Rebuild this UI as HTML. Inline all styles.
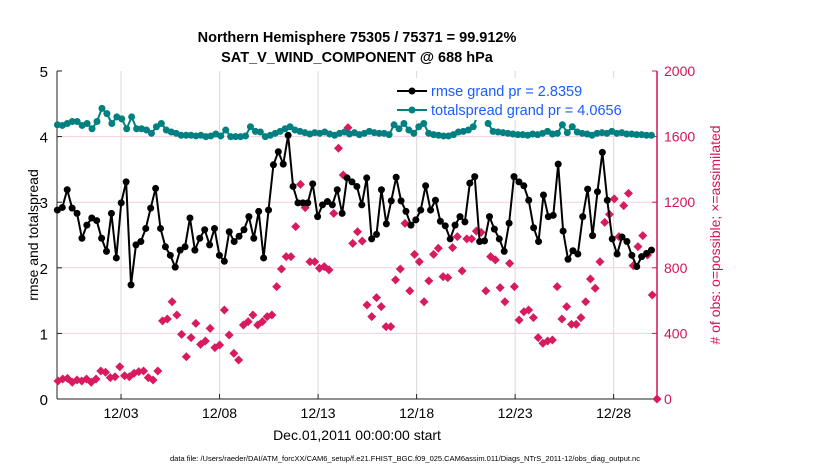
<!DOCTYPE html>
<html><head><meta charset="utf-8"><style>
body{margin:0;background:#fff;}
svg{display:block;font-family:"Liberation Sans",sans-serif;}
</style></head><body>
<svg id="chart" width="830" height="470" viewBox="0 0 830 470">
<text x="357" y="42" font-size="14.5" font-weight="bold" text-anchor="middle">Northern Hemisphere 75305 / 75371 = 99.912%</text>
<text x="357" y="62" font-size="14.5" font-weight="bold" text-anchor="middle">SAT_V_WIND_COMPONENT @ 688 hPa</text>
<g id="grid"></g>
<g id="axes"></g>
<g id="series"></g>
<text x="0" y="0" transform="translate(38,235) rotate(-90)" font-size="14" text-anchor="middle">rmse and totalspread</text>
<text x="0" y="0" transform="translate(720,235) rotate(-90)" font-size="14" text-anchor="middle" fill="#d4145a"># of obs: o=possible; ×=assimilated</text>
<text x="357" y="440" font-size="14" text-anchor="middle">Dec.01,2011 00:00:00 start</text>
<text x="405" y="461" font-size="7.5" text-anchor="middle">data file: /Users/raeder/DAI/ATM_forcXX/CAM6_setup/f.e21.FHIST_BGC.f09_025.CAM6assim.011/Diags_NTrS_2011-12/obs_diag_output.nc</text>
<g>
<rect x="390" y="78" width="262" height="42" fill="#fff"/>
<line x1="397" y1="91" x2="427" y2="91" stroke="#000" stroke-width="2"/>
<circle cx="412" cy="91" r="3.5" fill="#000"/>
<text x="431" y="96" font-size="14.5" fill="#1a5cff">rmse grand pr = 2.8359</text>
<line x1="397" y1="110" x2="427" y2="110" stroke="#008080" stroke-width="2"/>
<circle cx="412" cy="110" r="3.5" fill="#008080"/>
<text x="431" y="115" font-size="14.5" fill="#1a5cff">totalspread grand pr = 4.0656</text>
</g>
</svg>
<script>
const xTickLabels=["12/03","12/08","12/13","12/18","12/23","12/28"];
const xTickDays=[2,7,12,17,22,27];
const leftTicks=[0,1,2,3,4,5];
const rightTicks=[0,400,800,1200,1600,2000];
const rmse=[2.88,2.92,3.19,2.91,2.83,2.45,2.65,2.76,2.72,2.45,2.25,2.83,2.15,2.99,3.31,1.74,2.35,2.4,2.6,2.91,3.21,2.6,2.32,2.19,2.01,2.27,2.32,2.76,2.27,2.45,2.58,2.35,2.6,2.19,2.1,2.55,2.4,2.48,2.58,2.78,2.45,2.86,
2.15,2.88,3.57,3.77,3.58,4.02,3.24,2.99,2.99,2.99,3.28,2.78,2.96,3.01,2.96,3.19,2.83,3.37,3.31,3.24,2.96,3.37,2.44,2.51,3.19,2.67,3.02,3.38,3.02,2.86,2.65,2.73,2.88,3.25,2.88,3.03,2.71,2.64,2.44,2.65,2.78,
2.70,3.29,3.39,2.4,2.41,2.78,2.59,2.44,2.25,2.68,3.39,3.31,3.25,3.03,2.61,2.4,3.11,2.78,2.8,3.58,2.56,2.13,2.26,2.21,2.78,3.2,2.49,3.16,3.76,3.03,2.44,2.21,2.47,2.4,2.19,2.02,2.17,2.22,2.27];
const spread=[4.18,4.17,4.2,4.23,4.23,4.17,4.2,4.12,4.23,4.43,4.35,4.2,4.3,4.27,4.12,4.3,4.12,4.12,4.1,4.05,4.15,4.2,4.1,4.07,4.05,4.02,4.02,4.02,4.01,4.02,4.0,4.01,4.04,4.01,4.1,4.0,4.0,4.0,4.01,4.15,4.08,4.07,
4.0,4.02,4.05,4.08,4.12,4.15,4.1,4.08,4.06,4.04,4.06,4.05,4.07,4.04,4.02,4.05,4.07,4.04,4.06,4.03,4.05,4.08,4.06,4.05,4.05,4.03,4.18,4.12,4.2,4.1,4.05,4.15,4.2,4.05,4.03,4.02,4.01,4.01,4.03,4.07,
4.08,4.1,4.15,4.35,4.6,4.2,4.08,4.07,4.06,4.05,4.04,4.03,4.03,4.02,4.04,4.03,4.05,4.08,4.04,4.05,4.18,4.06,4.15,4.07,4.05,4.04,4.02,4.05,4.06,4.05,4.08,4.05,4.06,4.04,4.04,4.03,4.03,4.02,4.02];
const nobs=[110,122,126,102,116,110,122,102,122,171,163,130,136,197,142,136,157,167,171,130,116,171,476,488,593,512,394,258,374,461,333,354,431,313,329,543,390,278,238,451,472,512,
451,472,502,512,685,793,868,868,1051,1309,1167,837,837,797,807,787,1132,1529,1366,1655,949,1020,963,573,502,618,563,441,441,726,793,1071,659,882,837,593,720,882,919,746,740,923,990,781,976,
976,1024,1016,659,868,848,679,593,827,685,482,532,543,496,374,340,354,360,685,488,563,455,455,496,593,732,675,837,1077,1126,1220,990,1179,1254,813,929,996,878,634,0];
const NS="http://www.w3.org/2000/svg";
const PL=57,PR=657,PT=71,PB=399;
const X0=-1.25,X1=29.2;
function xs(d){return PL+(d-X0)/(X1-X0)*(PR-PL);}
function yl(v){return PB-v/5*(PB-PT);}
function yr(v){return PB-v/2000*(PB-PT);}
function mk(tag,attrs,parent){const e=document.createElementNS(NS,tag);for(const k in attrs)e.setAttribute(k,attrs[k]);parent.appendChild(e);return e;}
const grid=document.getElementById('grid'),axes=document.getElementById('axes'),ser=document.getElementById('series');
xTickDays.forEach((d,i)=>{
 const g=mk('line',{x1:xs(d),x2:xs(d),y1:PT,y2:PB,stroke:'#d9d9d9','stroke-width':1},grid);
 
 
 const t=mk('line',{x1:xs(d),x2:xs(d),y1:PB,y2:PB-5,stroke:'#222'},axes);
 
 
 const l=mk('text',{x:xs(d),y:PB+19,'font-size':14,'text-anchor':'middle'},axes);l.textContent=xTickLabels[i];
 
 
});
rightTicks.forEach(v=>{
 if(v>0&&v<2000){const g=mk('line',{x1:PL,x2:PR,y1:yr(v),y2:yr(v),stroke:'#f6cfe0','stroke-width':1},grid);
 
 }
 const t=mk('line',{x1:PR,x2:PR-5,y1:yr(v),y2:yr(v),stroke:'#d4145a'},axes);
 
 
 const l=mk('text',{x:PR+7,y:yr(v)+5,'font-size':14,fill:'#d4145a'},axes);l.textContent=v;
 
 
});
leftTicks.forEach(v=>{
 const t=mk('line',{x1:PL,x2:PL+5,y1:yl(v),y2:yl(v),stroke:'#222'},axes);
 
 
 const l=mk('text',{x:PL-9,y:yl(v)+6,'font-size':15,'text-anchor':'end'},axes);l.textContent=v;
 
 
});
let a=mk('line',{x1:PL,x2:PL,y1:PT,y2:PB,stroke:'#222','stroke-width':1},axes);


a=mk('line',{x1:PL,x2:PR,y1:PB,y2:PB,stroke:'#222','stroke-width':1},axes);


a=mk('line',{x1:PR,x2:PR,y1:PT,y2:PB,stroke:'#d4145a','stroke-width':1.5},axes);


// obs diamonds
const nStep=(X1-0.05-X0)/(nobs.length-1);
nobs.forEach((v,i)=>{
 const cx=xs(X0+0.05+i*nStep),cy=yr(v),s=4.5;
 const p=mk('polygon',{points:`${cx},${cy-s} ${cx+s},${cy} ${cx},${cy+s} ${cx-s},${cy}`,fill:'#d81b60'},ser);
 
 
});
function line(vals,color,name){
 const st=(X1-0.3-X0)/(vals.length-1);
 const pts=vals.map((v,i)=>[xs(X0+0.02+i*st),yl(v)]);
 const pl=mk('polyline',{points:pts.map(p=>p.join(',')).join(' '),fill:'none',stroke:color,'stroke-width':2},ser);
 
 
 pts.forEach(p=>{const c=mk('circle',{cx:p[0],cy:p[1],r:3.5,fill:color},ser);
 
 });
}
line(spread,'#008080','totalspread');
line(rmse,'#000','rmse');
</script>
</body></html>
